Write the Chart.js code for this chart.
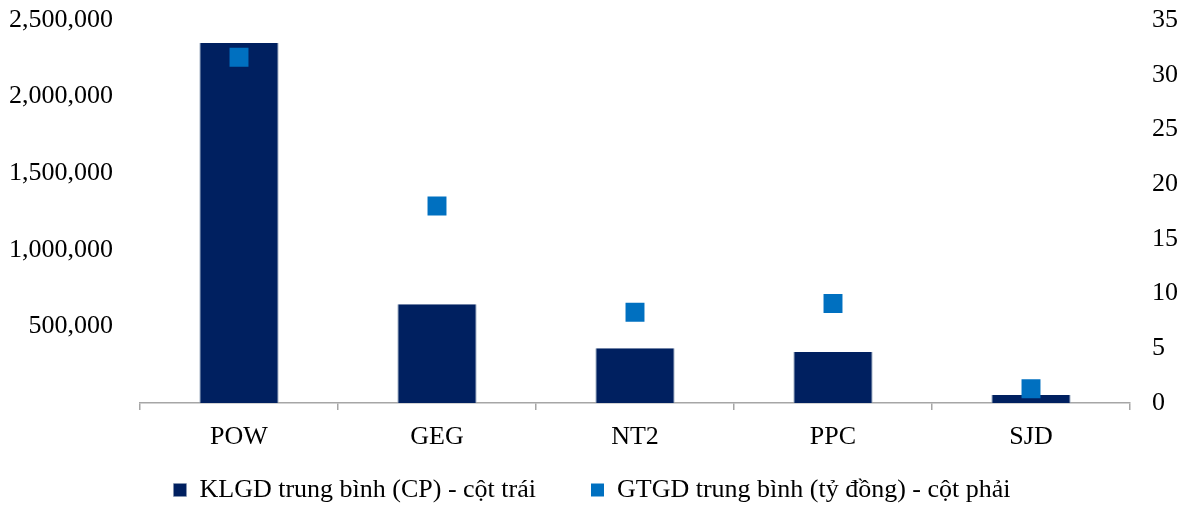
<!DOCTYPE html>
<html>
<head>
<meta charset="utf-8">
<script src="https://cdn.jsdelivr.net/npm/chart.js@4"></script>
<style>
  html, body { margin: 0; padding: 0; background: #fff; }
</style>
</head>
<body>
<canvas id="chart" width="1184" height="506"></canvas>
<script>
const categories = ['POW', 'GEG', 'NT2', 'PPC', 'SJD'];
const klgdValues = [2350000, 645000, 358000, 333000, 52000];
const gtgdValues = [31.6, 18.0, 8.3, 9.1, 1.3];
const leftTicks = [0, 500000, 1000000, 1500000, 2000000, 2500000];
const rightTicks = [0, 5, 10, 15, 20, 25, 30, 35];

const FONT = { family: "'Liberation Serif', 'Times New Roman', serif", size: 26 };

// legend padding sets the gap between items; keep its box short and lift its top
const LEGEND_H = 43;
const LEGEND_LIFT = 41;
const legendNudge = {
  id: 'legendNudge',
  beforeLayout(chart) {
    const lg = chart.legend;
    if (lg && !lg._fitPatched) {
      const fit = lg.fit.bind(lg);
      lg.fit = function () { fit(); this.height = LEGEND_H; };
      lg._fitPatched = true;
    }
  },
  afterLayout(chart) {
    const lg = chart.legend;
    if (lg) { lg.top -= LEGEND_LIFT; }
  },
};

const yFit = (w) => (scale) => {
  scale.width = w;
  scale.paddingTop = 0;
  scale.paddingBottom = 0;
};

new Chart(document.getElementById('chart'), {
  data: {
    labels: categories,
    datasets: [
      {
        type: 'bar',
        label: 'KLGD trung bình (CP) - cột trái',
        data: klgdValues,
        backgroundColor: '#002060',
        borderColor: '#8497b0',
        borderWidth: { left: 1, right: 1, top: 0, bottom: 0 },
        barPercentage: 0.4,
        categoryPercentage: 1,
        yAxisID: 'y',
        order: 1,
      },
      {
        type: 'line',
        label: 'GTGD trung bình (tỷ đồng) - cột phải',
        data: gtgdValues,
        showLine: false,
        pointStyle: 'rect',
        pointRadius: 13.4,
        pointHoverRadius: 13.4,
        backgroundColor: '#0070C0',
        borderColor: '#0070C0',
        borderWidth: 0,
        pointBorderWidth: 0,
        yAxisID: 'y1',
        order: 0,
      },
    ],
  },
  plugins: [legendNudge],
  options: {
    responsive: false,
    animation: false,
    layout: { padding: { top: 20, bottom: 0, left: 0, right: 0 } },
    plugins: {
      tooltip: { enabled: false },
      legend: {
        position: 'bottom',
        labels: {
          font: FONT,
          color: '#000',
          boxWidth: 13,
          boxHeight: 13,
          padding: 55,
          sort: (a, b) => a.datasetIndex - b.datasetIndex,
        },
      },
    },
    scales: {
      x: {
        offset: true,
        grid: {
          offset: true,
          drawOnChartArea: false,
          drawTicks: true,
          tickLength: 7,
          color: '#A6A6A6',
          lineWidth: 1.5,
        },
        border: { display: true, color: '#A6A6A6', width: 1.5 },
        ticks: { font: FONT, color: '#000', padding: 12 },
        afterFit: (scale) => { scale.height = 60; },
      },
      y: {
        position: 'left',
        min: 0,
        max: 2500000,
        afterBuildTicks: (scale) => { scale.ticks = leftTicks.map(v => ({ value: v })); },
        grid: { display: false },
        border: { display: false },
        ticks: {
          font: FONT,
          color: '#000',
          padding: 19,
          callback: (v) => v === 0 ? '' : v.toLocaleString('en-US'),
        },
        afterFit: yFit(140),
      },
      y1: {
        position: 'right',
        min: 0,
        max: 35,
        afterBuildTicks: (scale) => { scale.ticks = rightTicks.map(v => ({ value: v })); },
        grid: { display: false },
        border: { display: false },
        ticks: { font: FONT, color: '#000', padding: 14 },
        afterFit: yFit(54),
      },
    },
  },
});
</script>
</body>
</html>
